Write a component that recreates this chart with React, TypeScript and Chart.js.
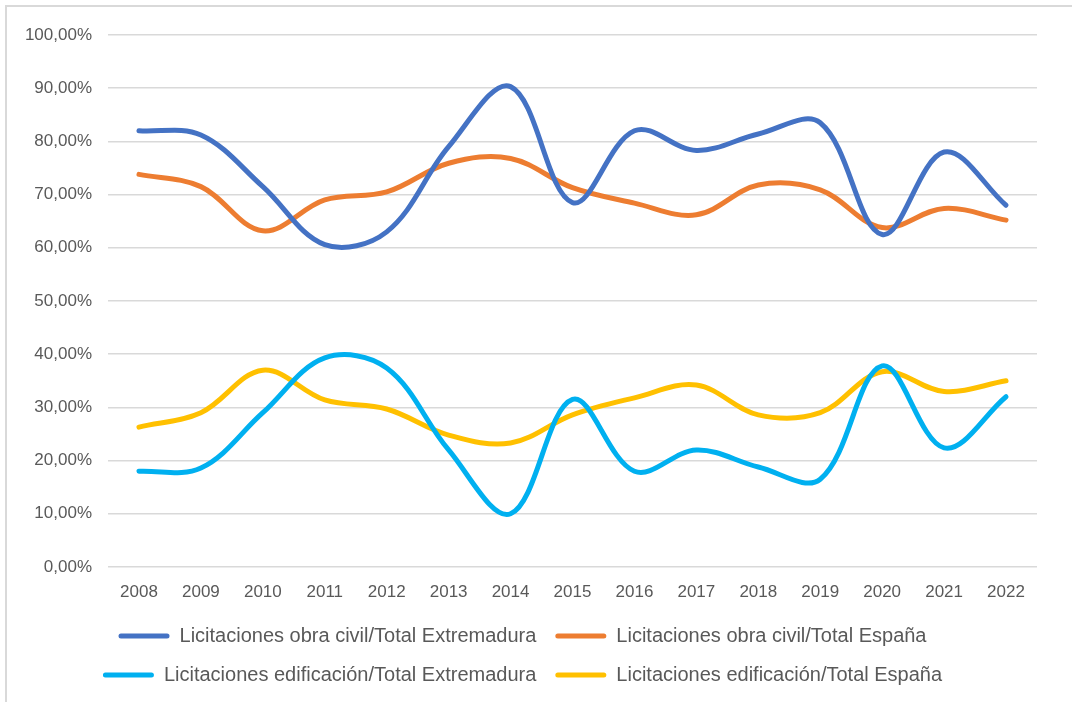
import React, { useEffect, useRef } from "react";
import { Chart, registerables } from "chart.js";

Chart.register(...registerables);

const years = ["2008", "2009", "2010", "2011", "2012", "2013", "2014", "2015", "2016", "2017", "2018", "2019", "2020", "2021", "2022"];
const obraCivilExtremadura = [82, 81.2, 71.5, 60.6, 63, 79, 90.3, 68.5, 82, 78.3, 81.4, 83.5, 62.5, 78, 68];
const obraCivilEspana = [73.8, 71.5, 63.2, 69, 70.5, 75.9, 76.8, 71.3, 68.4, 66.2, 71.8, 70.9, 63.8, 67.4, 65.2];
const edificacionExtremadura = [18, 18.6, 29, 39.3, 37.4, 22, 10, 31.5, 18, 22, 18.8, 16.5, 37.8, 22.4, 32];
const edificacionEspana = [26.3, 29, 37, 31.4, 29.7, 24.8, 23.3, 28.6, 31.8, 34.2, 28.6, 29, 36.7, 33, 35];

const seriesNames = [
  "Licitaciones obra civil/Total Extremadura",
  "Licitaciones obra civil/Total España",
  "Licitaciones edificación/Total Extremadura",
  "Licitaciones edificación/Total España",
];
const seriesColors = ["#4472C4", "#ED7D31", "#00B0F0", "#FFC000"];

const FONT = "'Liberation Sans', Arial, sans-serif";
const TEXT = "#595959";

export default function App() {
  const ref = useRef<HTMLCanvasElement | null>(null);

  useEffect(() => {
    if (!ref.current) return;
    const data = [obraCivilExtremadura, obraCivilEspana, edificacionExtremadura, edificacionEspana];
    const chart = new Chart(ref.current, {
      type: "line",
      data: {
        labels: years,
        datasets: data.map((d, i) => ({
          label: seriesNames[i],
          data: d,
          borderColor: seriesColors[i],
          backgroundColor: seriesColors[i],
          borderWidth: 5,
          borderCapStyle: "round" as const,
          borderJoinStyle: "round" as const,
          pointRadius: 0,
          tension: 0.36,
          fill: false,
        })),
      },
      options: {
        animation: false,
        responsive: false,
        layout: { padding: { left: 8, right: 35, top: 35, bottom: 7 } },
        scales: {
          x: {
            offset: true,
            grid: { display: false },
            border: { display: false },
            ticks: { color: TEXT, font: { family: FONT, size: 17 }, padding: 7, maxRotation: 0 },
            afterFit: (s: any) => {
              s.height = 40;
            },
          },
          y: {
            min: 0,
            max: 100,
            grid: { color: "#d9d9d9", lineWidth: 1.5, drawTicks: false },
            border: { display: false },
            ticks: {
              stepSize: 10,
              color: TEXT,
              font: { family: FONT, size: 17 },
              padding: 16,
              callback: (v: any) => Number(v).toFixed(2).replace(".", ",") + "%",
            },
            afterFit: (s: any) => {
              s.width = 100;
            },
          },
        },
        plugins: {
          tooltip: { enabled: false },
          legend: {
            position: "bottom",
            labels: {
              color: TEXT,
              font: { family: FONT, size: 20 },
              boxWidth: 51,
              boxHeight: 5,
              padding: 19,
              useBorderRadius: true,
              borderRadius: 2.5,
              generateLabels: (c: any) =>
                Chart.defaults.plugins.legend.labels.generateLabels(c).map((l: any) => ({
                  ...l,
                  fillStyle: l.strokeStyle,
                  lineWidth: 0,
                  borderRadius: 2.5,
                })),
            },
          },
        },
      },
    });
    return () => chart.destroy();
  }, []);

  return (
    <div style={{ position: "fixed", left: 0, top: 0, width: 1072, height: 702, background: "#fff", overflow: "hidden" }}>
      <div
        style={{
          position: "absolute",
          left: 5,
          top: 5,
          width: 1100,
          height: 720,
          borderLeft: "2px solid #d9d9d9",
          borderTop: "2px solid #d9d9d9",
          boxSizing: "border-box",
        }}
      />
      <canvas ref={ref} width={1072} height={702} style={{ position: "absolute", left: 0, top: 0 }} />
    </div>
  );
}
